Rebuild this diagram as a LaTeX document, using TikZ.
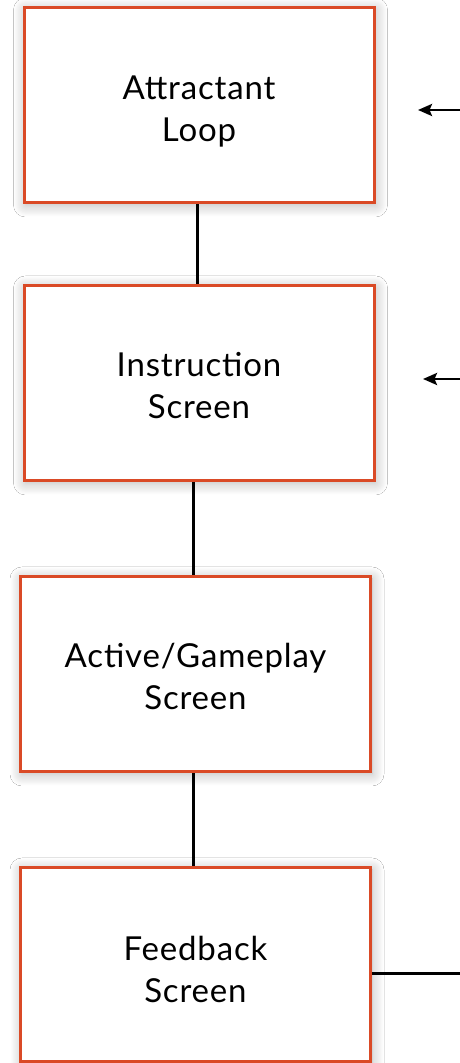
\documentclass[tikz,border=0pt]{standalone}
\usepackage{fontspec}
\setmainfont{Lato}[LetterSpace=2.5]
\usetikzlibrary{arrows.meta,shadows.blur}
\definecolor{boxred}{RGB}{218,74,38}
\tikzset{
  screen/.style={draw=boxred, line width=3pt, fill=white, minimum width=350pt,
    minimum height=195pt, inner sep=0pt,
    blur shadow={shadow xshift=1.5pt, shadow yshift=-2pt, shadow blur radius=12pt,
      shadow opacity=30, shadow blur steps=16}},
  caption/.style={align=center, inner sep=0pt, font=\fontsize{33}{42}\selectfont},
  link/.style={draw=black, line width=3pt},
  entry/.style={draw=black, line width=2.6pt, -{Stealth[length=14pt, width=12pt, inset=2.5pt]}}
}
\begin{document}
\begin{tikzpicture}[x=1pt, y=1pt]
  \useasboundingbox (0,0) rectangle (459,1063);
  \fill[white] (0,0) rectangle (459,1063);

  % the four screens
  \node[screen] (attract) at (199,957.5) {};
  \node[screen] (instr)   at (199,679.5) {};
  \node[screen] (active)  at (195.5,388.5) {};
  \node[screen, minimum height=194pt] (feedback) at (195.5,98) {};

  % their titles
  \node[caption, yshift=-6.5pt] (attractText)  at (attract)  {Attractant\\Loop};
  \node[caption, yshift=-2.5pt] (instrText)    at (instr)    {Instruction\\Screen};
  \node[caption, yshift=-1.5pt] (activeText)   at (active)   {Active/Gameplay\\Screen};
  \node[caption, yshift=-4.5pt] (feedbackText) at (feedback) {Feedback\\Screen};

  % vertical links between the screens
  \draw[link] ([xshift=-2pt]attract.south) -- ([xshift=-2pt]instr.north);
  \draw[link] ([xshift=-6pt]instr.south) -- ([xshift=-2.5pt]active.north);
  \draw[link] ([xshift=-2.5pt]active.south) -- ([xshift=-2.5pt]feedback.north);

  % incoming returns from the right
  \coordinate (ret1) at (460,953);
  \coordinate (tip1) at (418,953);
  \coordinate (ret2) at (460,684);
  \coordinate (tip2) at (423,684);
  \draw[entry] (ret1) -- (tip1);
  \draw[entry] (ret2) -- (tip2);

  % outgoing line from the feedback screen
  \coordinate (out) at (460,89);
  \draw[link] (feedback.east |- out) -- (out);
\end{tikzpicture}
\end{document}
